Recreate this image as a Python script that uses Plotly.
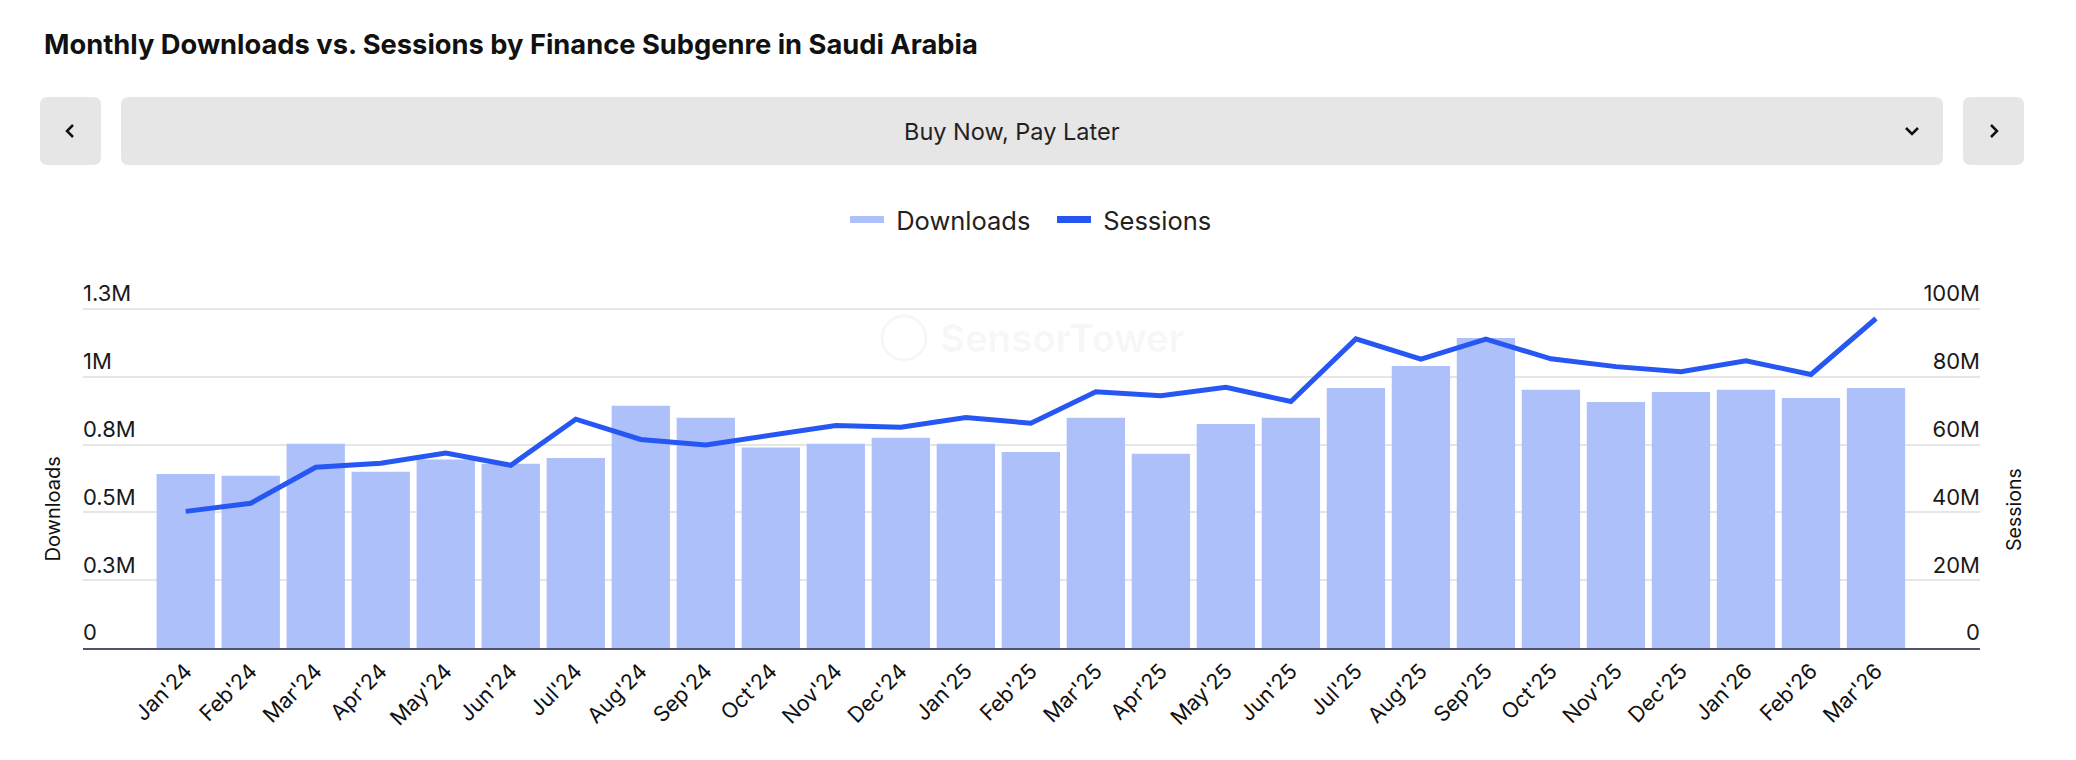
import plotly.graph_objects as go

# ---------------- data ----------------
months = ["Jan'24", "Feb'24", "Mar'24", "Apr'24", "May'24", "Jun'24", "Jul'24", "Aug'24",
          "Sep'24", "Oct'24", "Nov'24", "Dec'24", "Jan'25", "Feb'25", "Mar'25", "Apr'25",
          "May'25", "Jun'25", "Jul'25", "Aug'25", "Sep'25", "Oct'25", "Nov'25", "Dec'25",
          "Jan'26", "Feb'26", "Mar'26"]

downloads = [642000, 635000, 753000, 650000, 695000, 679000, 701000, 893000,
             849000, 739000, 753000, 775000, 753000, 723000, 849000, 716000,
             826000, 849000, 959000, 1040000, 1143000, 952000, 907000, 944000,
             952000, 922000, 959000]

sessions = [40.3e6, 42.7e6, 53.3e6, 54.5e6, 57.5e6, 53.9e6, 67.5e6, 61.5e6,
            59.9e6, 62.9e6, 65.6e6, 65.1e6, 68.0e6, 66.3e6, 75.6e6, 74.4e6,
            76.9e6, 72.7e6, 91.2e6, 85.2e6, 91.1e6, 85.3e6, 83.0e6, 81.5e6,
            84.7e6, 80.7e6, 97.2e6]

dl_tickvals = [0, 250000, 500000, 750000, 1000000, 1250000]
dl_ticktext = ["0", "0.3M", "0.5M", "0.8M", "1M", "1.3M"]
ss_tickvals = [0, 20e6, 40e6, 60e6, 80e6, 100e6]
ss_ticktext = ["0", "20M", "40M", "60M", "80M", "100M"]

title_text = "Monthly Downloads vs. Sessions by Finance Subgenre in Saudi Arabia"
selector_text = "Buy Now, Pay Later"

# ---------------- layout geometry ----------------
# page body has an 8px margin; work in screen pixels and convert
OFF = 8
W, H = 2076 - OFF, 760 - OFF
SCR_L, SCR_R = 83, 1980          # plot area left/right on screen
SCR_GRID_TOP, SCR_BOT = 309, 648  # top gridline / baseline on screen
SCR_TOP = 277                    # plot area top (room for top tick labels)
ML = SCR_L - OFF
MR = W - (SCR_R - OFF)
MT = SCR_TOP - OFF
MB = H - (SCR_BOT - OFF)
PW, PH = W - ML - MR, H - MT - MB

EXT = (SCR_BOT - SCR_TOP) / (SCR_BOT - SCR_GRID_TOP)
DL_MAX = dl_tickvals[-1] * EXT
SS_MAX = ss_tickvals[-1] * EXT

BAR_COLOR = "#aec0fa"
LINE_COLOR = "#2657f2"
FONT = "Inter, Roboto, 'Open Sans', sans-serif"


def px(xs):
    return (xs - OFF - ML) / PW


def py(ys):
    return (H - MB - (ys - OFF)) / PH


def rounded_rect(x0, y0, x1, y1, r):
    pts = [
        f"M {px(x0 + r)},{py(y0)}",
        f"L {px(x1 - r)},{py(y0)}",
        f"Q {px(x1)},{py(y0)} {px(x1)},{py(y0 + r)}",
        f"L {px(x1)},{py(y1 - r)}",
        f"Q {px(x1)},{py(y1)} {px(x1 - r)},{py(y1)}",
        f"L {px(x0 + r)},{py(y1)}",
        f"Q {px(x0)},{py(y1)} {px(x0)},{py(y1 - r)}",
        f"L {px(x0)},{py(y0 + r)}",
        f"Q {px(x0)},{py(y0)} {px(x0 + r)},{py(y0)}",
        "Z",
    ]
    return " ".join(pts)


def polyline(points):
    return "M " + " L ".join(f"{px(a)},{py(b)}" for a, b in points)


fig = go.Figure()

fig.add_trace(go.Bar(
    x=months, y=downloads, name="Downloads", marker=dict(color=BAR_COLOR, line=dict(width=0)),
    yaxis="y", showlegend=False,
))
fig.add_trace(go.Scatter(
    x=months, y=sessions, name="Sessions", mode="lines",
    line=dict(color=LINE_COLOR, width=5), yaxis="y2", showlegend=False,
))
# legend entries (line swatches as in the reference)
fig.add_trace(go.Scatter(x=[None], y=[None], name="\u00a0Downloads", mode="lines",
                         line=dict(color=BAR_COLOR, width=7), showlegend=True))
fig.add_trace(go.Scatter(x=[None], y=[None], name="\u00a0Sessions", mode="lines",
                         line=dict(color=LINE_COLOR, width=7), showlegend=True, yaxis="y2"))

shapes = []
btn_fill = "#e6e6e6"
shapes.append(dict(type="path", xref="paper", yref="paper", path=rounded_rect(40, 97, 101, 165, 8),
                   fillcolor=btn_fill, line=dict(width=0), layer="below"))
shapes.append(dict(type="path", xref="paper", yref="paper", path=rounded_rect(121, 97, 1943, 165, 8),
                   fillcolor=btn_fill, line=dict(width=0), layer="below"))
shapes.append(dict(type="path", xref="paper", yref="paper", path=rounded_rect(1963, 97, 2024, 165, 8),
                   fillcolor=btn_fill, line=dict(width=0), layer="below"))
# chevrons
shapes.append(dict(type="path", xref="paper", yref="paper",
                   path=polyline([(73, 125), (67, 131), (73, 137)]),
                   line=dict(color="#111111", width=2.5)))
shapes.append(dict(type="path", xref="paper", yref="paper",
                   path=polyline([(1991, 125), (1997, 131), (1991, 137)]),
                   line=dict(color="#111111", width=2.5)))
shapes.append(dict(type="path", xref="paper", yref="paper",
                   path=polyline([(1906, 128), (1912, 134), (1918, 128)]),
                   line=dict(color="#111111", width=2.5)))
# faint watermark logo circle
shapes.append(dict(type="circle", xref="paper", yref="paper",
                   x0=px(882), x1=px(926), y0=py(316), y1=py(360),
                   line=dict(color="rgba(0,0,0,0.035)", width=3), layer="below"))

annotations = [
    dict(text=selector_text, x=px(1012), y=py(131), xref="paper", yref="paper",
         showarrow=False, xanchor="center", yanchor="middle",
         font=dict(family=FONT, size=23.5, color="#222222")),
    dict(text="SensorTower", x=px(1062), y=py(338), xref="paper", yref="paper",
         showarrow=False, xanchor="center", yanchor="middle",
         font=dict(family=FONT, size=38, color="rgba(0,0,0,0.035)", weight=700)),
    dict(text="Downloads", x=px(52.5), y=py(509), xref="paper", yref="paper",
         showarrow=False, xanchor="center", yanchor="middle", textangle=-90,
         font=dict(family=FONT, size=20, color="#111111")),
    dict(text="Sessions", x=px(2014), y=py(509), xref="paper", yref="paper",
         showarrow=False, xanchor="center", yanchor="middle", textangle=-90,
         font=dict(family=FONT, size=19.5, color="#111111")),
]

fig.update_layout(
    width=W, height=H,
    margin=dict(l=ML, r=MR, t=MT, b=MB, autoexpand=False),
    paper_bgcolor="white", plot_bgcolor="white",
    font=dict(family=FONT, color="#1a1a1a"),
    title=dict(text=title_text, x=(44 - OFF) / W, xref="container", xanchor="left",
               y=1 - (44 - OFF) / H, yref="container", yanchor="middle",
               font=dict(family=FONT, size=27.3, color="#111111", weight=700)),
    bargap=0.103,
    showlegend=True,
    legend=dict(orientation="h", x=px(845), xanchor="left", y=py(220), yanchor="middle",
                font=dict(family=FONT, size=25.5, color="#222222"), itemwidth=34,
                entrywidth=158, traceorder="normal", bgcolor="rgba(0,0,0,0)"),
    xaxis=dict(type="category", categoryorder="array", categoryarray=months,
               range=[-1.58, 27.6], tickangle=-45, showgrid=False, ticks="",
               showline=True, linecolor="#4d5370", linewidth=2,
               tickfont=dict(family=FONT, size=21.5, color="#111111"), zeroline=False),
    yaxis=dict(range=[0, DL_MAX], tickvals=dl_tickvals, ticktext=dl_ticktext,
               showgrid=True, gridcolor="#e6e6e6", gridwidth=2, zeroline=False,
               ticklabelposition="inside top", ticks="", showline=False,
               ticklabelstandoff=-3,
               tickfont=dict(family=FONT, size=22, color="#1a1a1a")),
    yaxis2=dict(range=[0, SS_MAX], tickvals=ss_tickvals, ticktext=ss_ticktext,
                overlaying="y", side="right", showgrid=False, zeroline=False,
                ticklabelposition="inside top", ticks="", showline=False,
                ticklabelstandoff=-3,
                tickfont=dict(family=FONT, size=22, color="#1a1a1a")),
    shapes=shapes,
    annotations=annotations,
)

fig.write_html("out.html")
